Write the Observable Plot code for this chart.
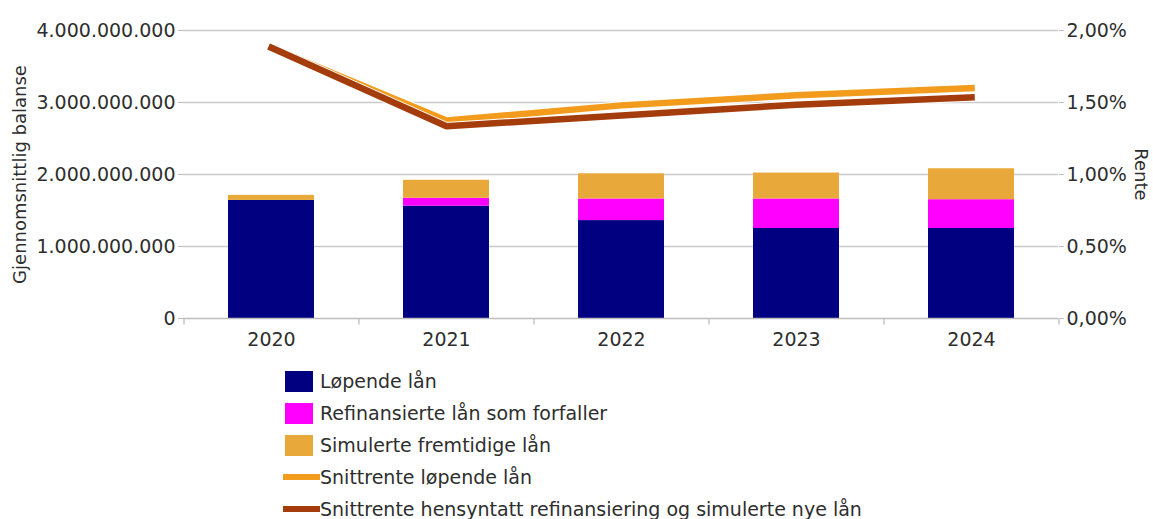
<!DOCTYPE html>
<html><head><meta charset="utf-8">
<script src="https://cdn.jsdelivr.net/npm/d3@7"></script>
<script src="https://cdn.jsdelivr.net/npm/@observablehq/plot@0.6"></script>
<style>
body{margin:0;background:#fff;font-family:"DejaVu Sans",sans-serif;color:#2e2e2e;}
#legend{padding-top:5px;margin-left:283px;}
.row{display:flex;align-items:center;height:32px;font-size:19px;color:#2e2e2e;}
.sw{width:37px;height:32px;position:relative;flex:none;}
.sq{position:absolute;left:2px;top:5.5px;width:28px;height:21px;}
.ln{position:absolute;left:0;top:13px;width:37px;height:6px;}
</style></head><body>
<div id="chart"></div>
<div id="legend"></div>
<script>
const years = ["2020","2021","2022","2023","2024"];
const lopende = [1.64e9, 1.56e9, 1.36e9, 1.25e9, 1.25e9];
const refinansierte = [0, 0.11e9, 0.30e9, 0.41e9, 0.40e9];
const simulerte = [0.07e9, 0.25e9, 0.35e9, 0.36e9, 0.43e9];
const renteLopende = [1.88, 1.375, 1.48, 1.55, 1.60];
const renteHensyntatt = [1.88, 1.335, 1.41, 1.485, 1.535];
const balanseTicks = [0, 1e9, 2e9, 3e9, 4e9];
const renteTicks = [0, 0.5, 1, 1.5, 2];
const barNames = ["Løpende lån", "Refinansierte lån som forfaller", "Simulerte fremtidige lån"];
const lineNames = ["Snittrente løpende lån", "Snittrente hensyntatt refinansiering og simulerte nye lån"];
const barColors = ["#000080", "#ff00ff", "#e8a93a"];
const lineColors = ["#f39b1c", "#a53c0b"];
const yTitleLeft = "Gjennomsnittlig balanse";
const yTitleRight = "Rente";

const W = 1153, H = 360, mL = 183, mR = 95, mT = 30, mB = 42;
const loc = d3.formatLocale({decimal: ",", thousands: ".", grouping: [3], currency: ["", " kr"]});
const fmtB = loc.format(",.0f");
const fmtP = loc.format(".2%");
const rateToBal = 4e9 / 2; // 2 % on the right axis equals 4.000.000.000 on the left axis

const barSeries = [lopende, refinansierte, simulerte];
const bars = [];
barSeries.forEach((arr, s) => years.forEach((y, i) => bars.push({year: y, serie: barNames[s], value: arr[i]})));
const lineSeries = [renteLopende, renteHensyntatt];
const lines = [];
lineSeries.forEach((arr, s) => years.forEach((y, i) => lines.push({year: y, serie: lineNames[s], rate: arr[i]})));

const step = (W - mL - mR) / years.length;
const lineOpts = {x: "year", y: d => d.rate * rateToBal, strokeLinecap: "square", strokeLinejoin: "miter"};

const chart = Plot.plot({
  width: W, height: H,
  marginLeft: mL, marginRight: mR, marginTop: mT, marginBottom: mB,
  style: {fontFamily: "DejaVu Sans", fontSize: "19px", color: "#2e2e2e", background: "#fff", overflow: "visible"},
  x: {domain: years, paddingInner: 0.51, paddingOuter: 0.255, axis: null},
  y: {domain: [0, 4e9], axis: null},
  color: {domain: [...barNames, ...lineNames], range: [...barColors, ...lineColors]},
  marks: [
    Plot.ruleY(balanseTicks.slice(1), {stroke: "#cacaca", strokeWidth: 1.3}),
    Plot.axisY(balanseTicks, {anchor: "left", label: null, tickFormat: fmtB, tickSize: 5, tickPadding: 3, stroke: "#c0c0c0"}),
    Plot.axisY(renteTicks.map(r => r * rateToBal), {anchor: "right", label: null, tickFormat: v => fmtP(v / rateToBal / 100), tickSize: 5, tickPadding: 3, stroke: "#c0c0c0"}),
    Plot.axisX({anchor: "bottom", label: null, tickSize: 0, tickPadding: 14}),
    Plot.ruleX(years, {x: d => d, y1: 0, y2: -0.09e9, dx: -step / 2, stroke: "#bdbdbd", strokeWidth: 1.3}),
    Plot.ruleX(years.slice(-1), {x: d => d, y1: 0, y2: -0.09e9, dx: step / 2, stroke: "#bdbdbd", strokeWidth: 1.3}),
    Plot.barY(bars, {x: "year", y: "value", fill: "serie", order: barNames}),
    Plot.ruleY([0], {stroke: "#bdbdbd", strokeWidth: 1.5}),
    Plot.line(lines.filter(d => d.serie === lineNames[0]), {...lineOpts, stroke: "#fff", strokeWidth: 8.5}),
    Plot.line(lines.filter(d => d.serie === lineNames[0]), {...lineOpts, stroke: "serie", strokeWidth: 6.5}),
    Plot.line(lines.filter(d => d.serie === lineNames[1]), {...lineOpts, stroke: "#fff", strokeWidth: 8.5}),
    Plot.line(lines.filter(d => d.serie === lineNames[1]), {...lineOpts, stroke: "serie", strokeWidth: 6.5}),
    Plot.text([yTitleLeft], {frameAnchor: "left", textAnchor: "middle", dx: -163, rotate: -90, fill: "#2e2e2e", fontSize: 18}),
    Plot.text([yTitleRight], {frameAnchor: "right", textAnchor: "middle", dx: 82, rotate: 90, fill: "#2e2e2e", fontSize: 18})
  ]
});
document.getElementById("chart").appendChild(chart);

const legend = document.getElementById("legend");
barNames.forEach((n, i) => {
  const row = document.createElement("div"); row.className = "row";
  row.innerHTML = `<div class="sw"><div class="sq" style="background:${barColors[i]}"></div></div><span>${n}</span>`;
  legend.appendChild(row);
});
lineNames.forEach((n, i) => {
  const row = document.createElement("div"); row.className = "row";
  row.innerHTML = `<div class="sw"><div class="ln" style="background:${lineColors[i]}"></div></div><span>${n}</span>`;
  legend.appendChild(row);
});
</script>
</body></html>
